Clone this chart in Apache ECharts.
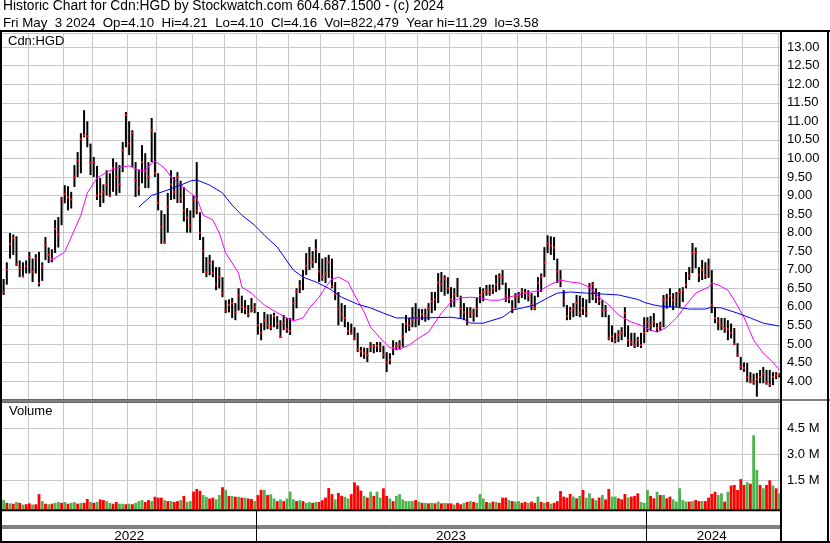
<!DOCTYPE html>
<html>
<head>
<meta charset="utf-8">
<title>Historic Chart for Cdn:HGD</title>
<script src="https://cdn.jsdelivr.net/npm/echarts@6/dist/echarts.min.js"></script>
<style>
  html, body { margin: 0; padding: 0; background: #fff; }
  #chart { width: 830px; height: 543px; }
</style>
</head>
<body>
<div id="chart"></div>
<script>
// each bar is one slot of about two trading days
var months = ["2022-05", "2022-06", "2022-07", "2022-08", "2022-09", "2022-10", "2022-11", "2022-12",
  "2023-01", "2023-02", "2023-03", "2023-04", "2023-05", "2023-06", "2023-07", "2023-08", "2023-09", "2023-10", "2023-11", "2023-12",
  "2024-01", "2024-02", "2024-03", "2024-04", "2024-05"];
var slotsPerMonth = [8, 11, 9, 11, 9, 11, 10, 10, 10, 10, 10, 10, 10, 10, 10, 11, 9, 11, 10, 10, 10, 10, 10, 11, 1];

var highs = [6.75, 7.2, 7.99, 7.95, 7.9, 7.25, 7.2, 7.25,
  7.48, 7.3, 7.42, 7.48, 7.2, 7.88, 7.6, 7.55, 8.34, 8.42, 8.96,
  9.28, 9.25, 9.1, 9.82, 10.17, 10.68, 11.3, 11.0, 10.4,
  10.04, 9.8, 9.47, 9.3, 9.68, 9.6, 10.0, 9.9, 9.82, 10.44, 11.25,
  11.0, 10.76, 9.9, 9.7, 10.36, 10.14, 9.9, 11.09, 10.7,
  9.6, 8.6, 8.5, 9.07, 9.68, 9.5, 9.63, 9.4, 9.23, 8.66, 8.6,
  9.0, 9.9, 8.55, 7.88, 7.34, 7.4, 7.25, 7.07, 7.07, 6.8,
  6.18, 6.2, 6.24, 6.1, 6.5, 6.3, 6.18, 6.05, 6.24, 6.1,
  5.86, 5.56, 5.86, 5.8, 5.8, 5.84, 5.75, 5.64, 5.78, 5.7,
  5.7, 6.26, 6.5, 6.72, 6.99, 7.45, 7.61, 7.5, 7.82, 7.45,
  7.3, 7.34, 7.4, 7.3, 6.67, 6.4, 6.1, 6.05, 5.59, 5.55,
  5.45, 5.3, 4.92, 4.9, 4.89, 5.05, 5.0, 5.05, 5.05, 4.95,
  4.78, 4.75, 5.1, 5.05, 5.1, 5.56, 5.78, 5.7, 5.99, 6.1,
  5.95, 5.94, 5.95, 6.1, 6.4, 6.4, 6.91, 6.94, 6.85, 6.8,
  6.53, 6.5, 6.78, 6.3, 6.1, 5.99, 5.99, 5.95, 6.24, 6.53,
  6.5, 6.59, 6.6, 6.6, 6.86, 6.9, 6.99, 6.65, 6.5, 6.18, 6.37,
  6.4, 6.5, 6.48, 6.45, 6.37, 6.3, 6.8, 6.9, 7.61,
  7.93, 7.9, 7.88, 7.3, 6.99, 6.45, 6.05, 6.0, 6.1, 6.32, 6.3,
  6.24, 6.2, 6.64, 6.67, 6.5, 6.4, 6.18, 6.05, 5.78, 5.5,
  5.3, 5.37, 5.45, 5.99, 5.5, 5.3, 5.3, 5.19, 5.3, 5.72,
  5.72, 5.75, 5.83, 5.56, 5.6, 6.32, 6.35, 6.5, 6.37, 6.4,
  6.5, 6.53, 6.94, 7.07, 7.72, 7.6, 7.07, 7.26, 7.2, 7.3,
  6.99, 5.99, 5.72, 5.7, 5.7, 5.64, 5.55, 5.43, 5.02, 4.65,
  4.5, 4.49, 4.24, 4.2, 4.22, 4.3, 4.38, 4.3, 4.3, 4.24, 4.24, 4.21];

var lows = [6.32, 6.6, 7.3, 7.4, 7.1, 6.8, 6.8, 6.9,
  6.9, 6.67, 6.9, 6.55, 6.7, 7.26, 7.18, 7.2, 7.45, 7.6, 8.2,
  8.79, 8.6, 8.65, 9.23, 9.5, 9.6, 10.57, 10.3, 9.55,
  9.5, 8.88, 8.69, 8.8, 9.0, 8.96, 9.1, 9.0, 9.07, 9.63, 10.3,
  10.09, 9.77, 8.96, 9.0, 9.33, 9.2, 9.2, 9.9, 9.5,
  8.6, 7.7, 7.7, 8.0, 8.88, 8.9, 8.8, 8.8, 8.3, 8.0, 8.0,
  8.4, 8.5, 7.8, 6.91, 6.8, 6.85, 6.8, 6.45, 6.5, 6.26,
  5.83, 5.85, 5.7, 5.64, 5.9, 5.83, 5.8, 5.72, 5.85, 5.83,
  5.25, 5.1, 5.37, 5.4, 5.37, 5.45, 5.4, 5.16, 5.37, 5.3,
  5.24, 5.64, 5.96, 6.37, 6.45, 6.86, 6.99, 7.05, 7.18, 6.67,
  6.7, 6.64, 6.78, 6.5, 6.18, 5.5, 5.6, 5.45, 5.24, 5.25,
  5.1, 4.78, 4.65, 4.6, 4.51, 4.78, 4.75, 4.78, 4.78, 4.6,
  4.24, 4.45, 4.7, 4.83, 4.85, 4.92, 5.3, 5.35, 5.45, 5.45,
  5.5, 5.64, 5.6, 5.64, 5.83, 5.9, 6.1, 6.4, 6.3, 6.35,
  5.99, 6.0, 6.26, 5.7, 5.64, 5.5, 5.7, 5.6, 5.72, 6.1,
  6.15, 6.3, 6.3, 6.35, 6.4, 6.45, 6.59, 6.13, 6.1, 5.83, 5.96,
  6.1, 6.24, 6.2, 6.15, 5.91, 5.91, 6.26, 6.4, 6.8,
  7.45, 7.4, 7.26, 6.64, 6.53, 6.0, 5.64, 5.65, 5.72, 5.75, 5.72,
  5.78, 5.72, 6.1, 6.18, 6.1, 6.05, 5.72, 5.72, 5.1, 5.05,
  5.02, 5.05, 5.1, 5.19, 4.92, 4.95, 4.89, 4.92, 4.89, 5.02,
  5.32, 5.35, 5.45, 5.32, 5.35, 5.45, 5.95, 5.99, 5.91, 6.0,
  5.99, 6.13, 6.5, 6.72, 6.91, 7.04, 6.67, 6.72, 6.75, 6.78,
  5.83, 5.56, 5.37, 5.37, 5.3, 5.1, 5.15, 4.97, 4.65, 4.3,
  4.25, 3.97, 3.94, 3.9, 3.58, 3.94, 3.94, 3.9, 3.84, 3.89, 4.05, 4.10];

var closes = [6.4, 7.0, 7.7, 7.85, 7.15, 7.05, 6.82, 7.1,
  7.35, 6.95, 7.3, 6.64, 7.1, 7.67, 7.4, 7.3, 8.1, 7.95, 8.9,
  9.05, 8.95, 8.9, 9.5, 9.95, 10.52, 10.63, 10.6, 9.88,
  9.9, 9.0, 9.04, 9.1, 9.3, 9.0, 9.74, 9.5, 9.3, 10.2, 11.17,
  10.4, 10.68, 9.4, 9.2, 9.9, 9.65, 9.5, 10.76, 9.6,
  8.8, 8.15, 7.74, 8.7, 9.3, 9.1, 9.5, 8.9, 8.6, 8.4, 8.2,
  8.88, 8.6, 8.0, 7.5, 6.94, 7.18, 6.91, 6.6, 6.8, 6.37,
  5.9, 6.05, 6.1, 5.85, 6.3, 6.0, 5.95, 5.8, 5.9, 6.0,
  5.5, 5.3, 5.64, 5.5, 5.45, 5.75, 5.55, 5.19, 5.56, 5.4,
  5.35, 6.1, 6.42, 6.55, 6.8, 7.1, 7.3, 7.2, 7.55, 6.95,
  6.8, 6.9, 7.2, 6.55, 6.35, 5.95, 5.8, 5.7, 5.35, 5.3,
  5.15, 4.85, 4.8, 4.75, 4.7, 4.92, 4.95, 4.95, 4.9, 4.7,
  4.51, 4.57, 4.9, 4.95, 5.0, 5.2, 5.55, 5.5, 5.65, 5.7,
  5.7, 5.8, 5.75, 5.95, 6.15, 6.2, 6.65, 6.6, 6.75, 6.5,
  6.2, 6.35, 6.65, 5.95, 5.85, 5.6, 5.86, 5.8, 5.95, 6.32,
  6.4, 6.45, 6.4, 6.5, 6.6, 6.8, 6.8, 6.3, 6.2, 5.95, 6.26,
  6.3, 6.42, 6.37, 6.3, 6.05, 5.97, 6.65, 6.8, 7.2,
  7.7, 7.65, 7.6, 6.95, 6.72, 6.15, 5.75, 5.9, 5.97, 6.1, 5.85,
  5.97, 5.83, 6.55, 6.6, 6.26, 6.15, 5.91, 5.91, 5.15, 5.2,
  5.1, 5.24, 5.3, 5.83, 5.1, 5.05, 4.97, 5.1, 4.97, 5.3,
  5.6, 5.5, 5.6, 5.43, 5.5, 6.2, 6.2, 6.3, 6.18, 6.3,
  6.4, 6.45, 6.6, 6.85, 7.45, 7.45, 6.85, 7.0, 6.85, 7.07,
  6.05, 5.7, 5.6, 5.5, 5.43, 5.4, 5.3, 5.0, 4.7, 4.4,
  4.35, 4.1, 4.0, 3.98, 4.05, 4.11, 4.2, 3.98, 3.9, 4.11, 4.15, 4.16];

// volume in millions of shares, volUp: 1 = green, 0 = red
var volumeM = [0.36, 0.2, 0.17, 0.15, 0.25, 0.2, 0.1, 0.12, 0.17, 0.1,
  0.12, 0.7, 0.3, 0.15, 0.12, 0.15, 0.2, 0.25, 0.2, 0.25,
  0.15, 0.2, 0.25, 0.15, 0.2, 0.2, 0.42, 0.25, 0.2, 0.25,
  0.4, 0.36, 0.3, 0.2, 0.15, 0.25, 0.15, 0.15, 0.12, 0.15,
  0.12, 0.2, 0.3, 0.36, 0.25, 0.36, 0.3, 0.55, 0.5, 0.5,
  0.35, 0.3, 0.3, 0.25, 0.3, 0.36, 0.6, 0.25, 0.3, 0.85,
  1.0, 0.9, 0.65, 0.55, 0.45, 0.5, 0.4, 0.65, 1.1, 0.95,
  0.6, 0.6, 0.55, 0.55, 0.5, 0.5, 0.45, 0.42, 0.3, 0.65,
  0.95, 0.95, 0.65, 0.7, 0.45, 0.3, 0.4, 0.3, 0.45, 0.85,
  0.4, 0.3, 0.35, 0.3, 0.2, 0.25, 0.2, 0.25, 0.25, 0.35,
  0.5, 1.05, 0.7, 0.4, 0.77, 0.6, 0.55, 0.45, 0.7, 1.38,
  1.2, 0.9, 0.6, 0.5, 0.84, 0.6, 0.84, 0.5, 1.04, 0.6,
  0.45, 0.3, 0.6, 0.7, 0.4, 0.3, 0.3, 0.3, 0.36, 0.27,
  0.2, 0.2, 0.17, 0.2, 0.17, 0.27, 0.17, 0.2, 0.17, 0.17,
  0.1, 0.2, 0.12, 0.2, 0.25, 0.3, 0.25, 0.2, 0.7, 0.45,
  0.25, 0.2, 0.27, 0.25, 0.2, 0.5, 0.5, 0.36, 0.3, 0.27,
  0.3, 0.2, 0.25, 0.2, 0.27, 0.2, 0.56, 0.25, 0.2, 0.25,
  0.15, 0.2, 0.3, 0.88, 0.56, 0.5, 0.71, 0.56, 0.46, 0.6,
  0.94, 0.5, 0.75, 0.46, 0.36, 0.5, 0.65, 0.4, 1.0, 0.56,
  0.56, 0.46, 0.4, 0.71, 0.5, 0.56, 0.6, 0.75, 0.25, 0.2,
  0.94, 0.6, 0.46, 0.84, 0.65, 0.65, 0.46, 0.56, 0.4, 0.27,
  1.04, 0.36, 0.27, 0.27, 0.3, 0.36, 0.3, 0.3, 0.3, 0.5,
  0.71, 0.84, 0.65, 0.75, 0.27, 0.84, 1.2, 1.23, 0.94, 1.57,
  1.23, 1.4, 1.3, 4.1, 2.1, 1.23, 1.04, 1.23, 1.5, 1.2, 1.04, 0.75];

var volUp = [1, 0, 1, 0, 1, 0, 1, 0, 0, 1,
  0, 0, 1, 0, 1, 0, 1, 1, 0, 1,
  0, 1, 1, 0, 1, 0, 0, 1, 0, 1,
  0, 0, 1, 1, 0, 0, 1, 1, 0, 1,
  0, 1, 1, 1, 0, 0, 1, 0, 0, 0,
  1, 0, 1, 0, 0, 1, 0, 1, 1, 0,
  0, 0, 1, 1, 0, 0, 1, 1, 0, 1,
  0, 1, 0, 1, 0, 1, 0, 0, 1, 0,
  0, 1, 0, 1, 1, 0, 1, 0, 1, 1,
  1, 0, 1, 0, 1, 1, 0, 1, 0, 0,
  0, 0, 0, 1, 0, 0, 1, 1, 0, 0,
  0, 0, 1, 0, 1, 0, 1, 1, 0, 0,
  1, 0, 1, 1, 1, 1, 1, 1, 0, 1,
  0, 1, 0, 1, 0, 1, 0, 1, 0, 0,
  1, 0, 0, 1, 0, 1, 0, 1, 1, 1,
  0, 1, 0, 1, 0, 0, 0, 1, 0, 1,
  1, 0, 0, 1, 0, 0, 1, 0, 1, 0,
  1, 0, 0, 0, 0, 0, 0, 1, 0, 1,
  0, 1, 1, 0, 1, 0, 1, 0, 0, 1,
  1, 0, 0, 0, 1, 0, 0, 0, 1, 1,
  1, 0, 0, 1, 0, 1, 0, 0, 1, 1,
  1, 1, 1, 0, 1, 0, 0, 1, 0, 0,
  0, 0, 1, 1, 0, 1, 0, 0, 0, 0,
  0, 1, 0, 1, 1, 0, 1, 0, 0, 1, 0, 1];

// moving averages: [slot, value]
var maFast = [[14, 7.21], [17, 7.37], [19, 7.48], [21, 7.88], [24, 8.47], [26, 9.07], [29, 9.47], [32, 9.63],
  [35, 9.74], [37, 9.77], [39, 9.8], [42, 9.68], [44, 9.68], [46, 9.87], [47, 9.93], [50, 9.74], [52, 9.5],
  [55, 9.28], [58, 9.07], [60, 8.93], [62, 8.47], [65, 8.34], [67, 7.99], [69, 7.45], [73, 6.91], [74, 6.53],
  [77, 6.37], [79, 6.2], [81, 6.05], [84, 5.89], [88, 5.7], [90, 5.62], [93, 5.7], [95, 5.97], [98, 6.26],
  [100, 6.53], [102, 6.75], [104, 6.8], [107, 6.67], [109, 6.32], [112, 5.86], [114, 5.45], [117, 5.16],
  [120, 4.9], [123, 4.86], [126, 4.97], [129, 5.16], [132, 5.32], [136, 5.83], [139, 6.13], [142, 6.24],
  [145, 6.26], [148, 6.24], [151, 6.18], [154, 6.18], [157, 6.26], [160, 6.33], [164, 6.4], [167, 6.45],
  [170, 6.61], [173, 6.72], [176, 6.67], [179, 6.64], [182, 6.53], [185, 6.26], [188, 6.05], [191, 5.78],
  [195, 5.59], [198, 5.5], [201, 5.37], [203, 5.32], [206, 5.45], [209, 5.7], [212, 6.05], [215, 6.37],
  [219, 6.53], [220, 6.64], [222, 6.59], [225, 6.45], [227, 6.18], [230, 5.72], [233, 5.1], [236, 4.75],
  [239, 4.51], [241, 4.3]];
var maSlow = [[42, 8.69], [46, 9.0], [51, 9.15], [55, 9.28], [58, 9.39], [60, 9.42], [64, 9.28], [68, 9.07],
  [71, 8.74], [74, 8.47], [78, 8.2], [81, 7.93], [85, 7.61], [90, 6.99], [93, 6.8], [97, 6.67], [101, 6.5],
  [105, 6.26], [110, 6.07], [114, 5.97], [118, 5.83], [122, 5.7], [130, 5.7], [139, 5.72], [143, 5.67],
  [145, 5.56], [149, 5.56], [152, 5.64], [155, 5.72], [158, 5.91], [162, 5.99], [165, 6.05], [169, 6.24],
  [172, 6.37], [176, 6.4], [181, 6.37], [187, 6.34], [191, 6.32], [197, 6.2], [199, 6.12], [202, 6.05],
  [204, 6.02], [209, 5.99], [213, 5.94], [218, 5.94], [220, 5.99], [223, 5.97], [228, 5.83], [232, 5.7],
  [236, 5.56], [241, 5.48]];

var years = ["2022", "2023", "2024"];

var FONT = '"Liberation Sans", Arial, sans-serif';
var GRID_COLOR = "#c8c8c8";

var categories = [];
months.forEach(function (m, i) {
  for (var k = 0; k < slotsPerMonth[i]; k++) categories.push(m + "/" + k);
});

var yearLabelIdx = years.map(function (y) {
  var first = -1, last = -1;
  categories.forEach(function (c, i) {
    if (c.slice(0, 4) === y) { if (first < 0) first = i; last = i; }
  });
  return Math.floor((first + last) / 2);
});

function isMonthStart(idx) {
  return idx > 0 && /\/0$/.test(categories[idx] || "");
}
function isYearStart(idx) {
  return idx > 0 && /-01\/0$/.test(categories[idx] || "");
}

var ohlc = highs.map(function (h, i) { return [i, h, lows[i], closes[i]]; });
var vols = volumeM.map(function (v, i) { return [i, v, volUp[i]]; });

function renderBar(params, api) {
  var i = api.value(0);
  var hi = api.coord([i, api.value(1)]);
  var lo = api.coord([i, api.value(2)]);
  var cl = api.coord([i, api.value(3)]);
  return {
    type: "group",
    children: [
      { type: "rect", shape: { x: hi[0] - 1, y: hi[1], width: 2, height: Math.max(1, lo[1] - hi[1]) }, style: { fill: "#000" } },
      { type: "rect", shape: { x: cl[0] - 1, y: cl[1] - 1, width: 2, height: 2 }, style: { fill: "#ff0000" } }
    ]
  };
}

function renderVolume(params, api) {
  var i = api.value(0);
  var top = api.coord([i, api.value(1)]);
  var base = params.coordSys.y + params.coordSys.height + 3;
  return {
    type: "rect",
    shape: { x: top[0] - 1.4, y: top[1], width: 2.8, height: base - top[1] },
    style: { fill: api.value(2) ? "#4db34d" : "#ff0000" }
  };
}

function hLine(x1, x2, y, w) {
  return { type: "line", z: 100, shape: { x1: x1, y1: y, x2: x2, y2: y }, style: { stroke: "#000", lineWidth: w } };
}
function vLine(x, y1, y2, w) {
  return { type: "line", z: 100, shape: { x1: x, y1: y1, x2: x, y2: y2 }, style: { stroke: "#000", lineWidth: w } };
}
function label(text, x, y, size) {
  return { type: "text", z: 100, left: x, top: y, style: { text: text, font: (size || 13) + "px " + FONT, fill: "#000" } };
}

var chart = echarts.init(document.getElementById("chart"));

var option = {
  animation: false,
  backgroundColor: "#fff",
  grid: [
    { left: 2, top: 33, width: 779, height: 366.6 },
    { left: 2, top: 402.3, width: 779, height: 104 },
    { left: 2, top: 511, width: 779, height: 30 }
  ],
  xAxis: [
    {
      type: "category", gridIndex: 0, data: categories,
      axisLine: { show: false }, axisTick: { show: false }, axisLabel: { show: false },
      splitLine: { show: true, interval: isMonthStart, lineStyle: { color: GRID_COLOR, width: 1 } }
    },
    {
      type: "category", gridIndex: 1, data: categories,
      axisLine: { show: false }, axisTick: { show: false }, axisLabel: { show: false },
      splitLine: { show: true, interval: isMonthStart, lineStyle: { color: GRID_COLOR, width: 1 } }
    },
    {
      type: "category", gridIndex: 2, data: categories,
      axisLine: { show: false }, axisTick: { show: false },
      axisLabel: {
        show: true, inside: true, margin: -2,
        interval: function (idx) { return yearLabelIdx.indexOf(idx) >= 0; },
        formatter: function (v) { return v.slice(0, 4); },
        color: "#000", fontSize: 13.5, fontFamily: FONT
      },
      splitLine: { show: true, interval: isYearStart, lineStyle: { color: "#000", width: 1 } }
    }
  ],
  yAxis: [
    {
      type: "value", gridIndex: 0, position: "right", min: 3.5, max: 13.38, interval: 0.5,
      axisLine: { show: false }, axisTick: { show: false },
      axisLabel: {
        margin: 6, color: "#000", fontSize: 13, fontFamily: FONT,
        showMinLabel: false, showMaxLabel: false,
        formatter: function (v) { return v.toFixed(2); }
      },
      splitLine: { lineStyle: { color: GRID_COLOR, width: 1 } }
    },
    {
      type: "value", gridIndex: 1, position: "right", min: 0, max: 6, interval: 1.5,
      axisLine: { show: false }, axisTick: { show: false },
      axisLabel: {
        margin: 6, color: "#000", fontSize: 13, fontFamily: FONT,
        showMinLabel: false, showMaxLabel: false,
        formatter: function (v) { return v.toFixed(1) + " M"; }
      },
      splitLine: { showMinLine: false, lineStyle: { color: GRID_COLOR, width: 1 } }
    },
    { type: "value", gridIndex: 2, show: false }
  ],
  series: [
    {
      type: "custom", xAxisIndex: 0, yAxisIndex: 0, data: ohlc,
      encode: { x: 0, y: [1, 2, 3] }, renderItem: renderBar, z: 3
    },
    {
      type: "line", xAxisIndex: 0, yAxisIndex: 0, data: maFast, showSymbol: false,
      lineStyle: { color: "#ff00ff", width: 1 }, itemStyle: { color: "#ff00ff" }, z: 4
    },
    {
      type: "line", xAxisIndex: 0, yAxisIndex: 0, data: maSlow, showSymbol: false,
      lineStyle: { color: "#0000ff", width: 1 }, itemStyle: { color: "#0000ff" }, z: 4
    },
    {
      type: "custom", xAxisIndex: 1, yAxisIndex: 1, data: vols,
      encode: { x: 0, y: 1 }, renderItem: renderVolume, clip: false, z: 3
    }
  ],
  graphic: [
    label("Historic Chart for Cdn:HGD by Stockwatch.com 604.687.1500 - (c) 2024", 3, -1, 13.8),
    label("Fri May  3 2024  Op=4.10  Hi=4.21  Lo=4.10  Cl=4.16  Vol=822,479  Year hi=11.29  lo=3.58", 3, 17, 13.3),
    label("Cdn:HGD", 8, 35, 13),
    label("Volume", 9, 405, 13),
    hLine(0, 830, 31, 2),
    vLine(1, 31, 543, 2),
    vLine(828, 31, 543, 2),
    vLine(781, 31, 543, 2),
    hLine(0, 830, 400, 1),
    hLine(0, 781, 402, 1),
    hLine(0, 781, 510.3, 2),
    hLine(0, 781, 526, 1),
    hLine(0, 781, 528, 1),
    hLine(0, 830, 542, 2)
  ]
};

chart.setOption(option);
</script>
</body>
</html>
